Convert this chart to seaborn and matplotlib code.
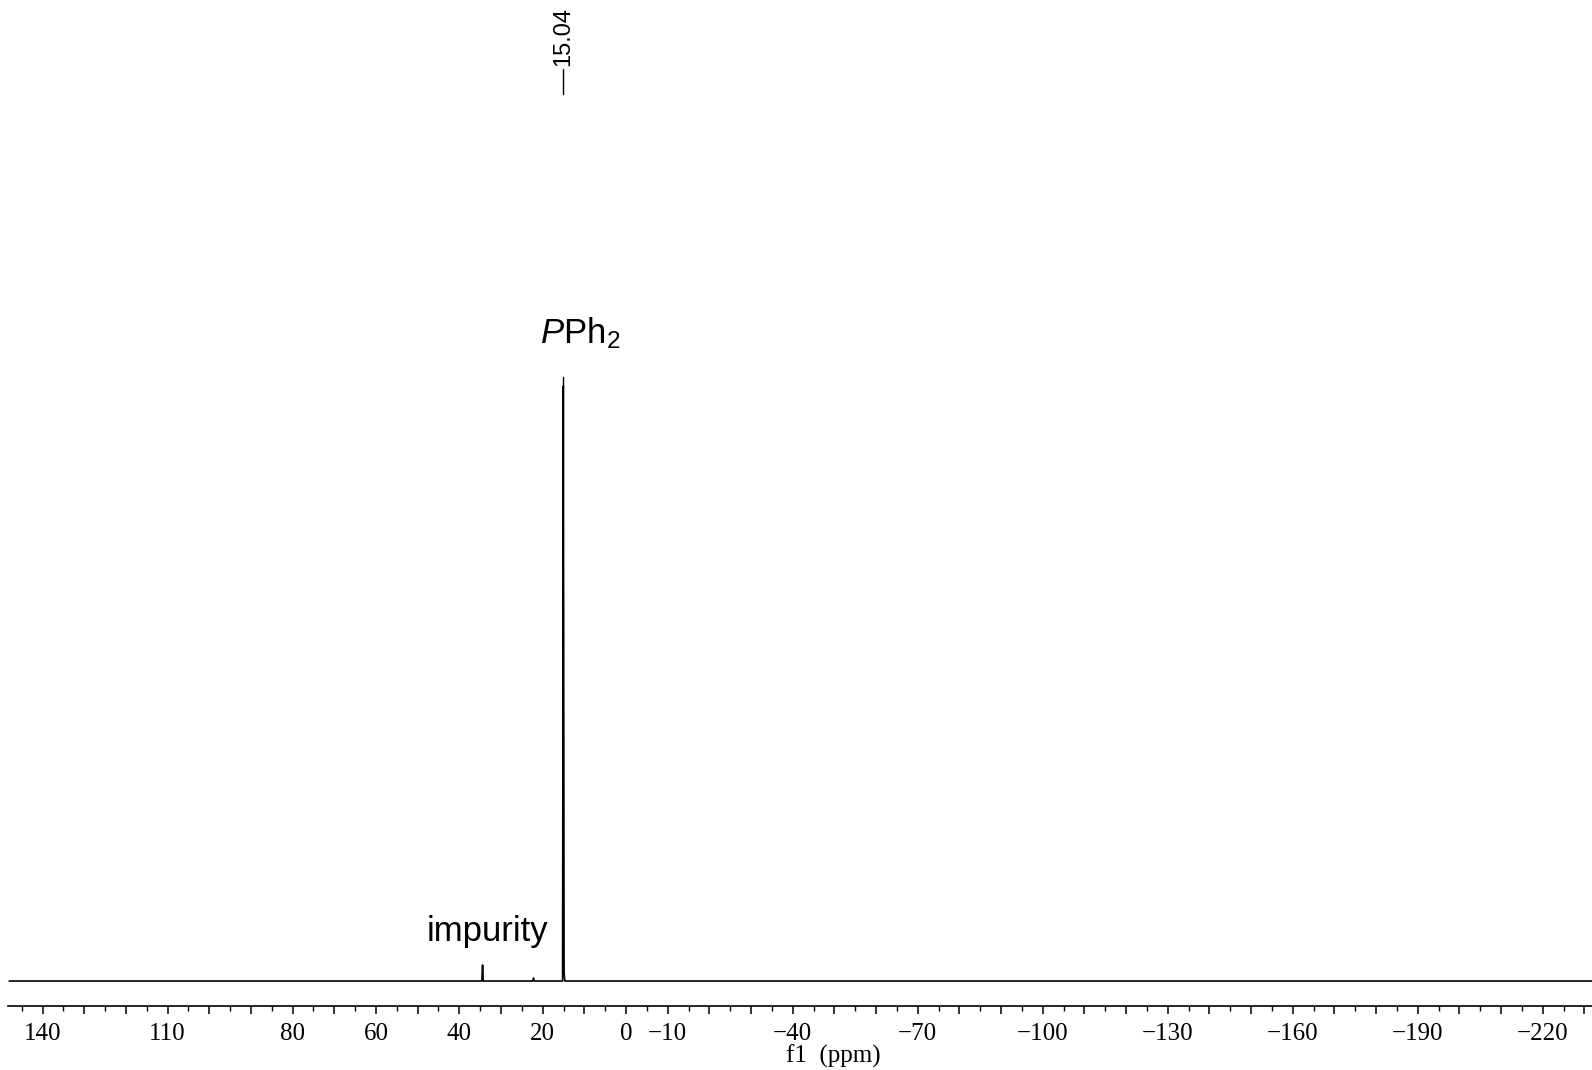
import matplotlib
matplotlib.use("Agg")
import matplotlib.pyplot as plt
import matplotlib.transforms as mtransforms
from matplotlib.ticker import FixedLocator, FuncFormatter, MultipleLocator
import numpy as np
import pandas as pd
import seaborn as sns

# 31P{1H} spectrum, stick-like points (ppm, relative intensity)
ppm = [148.0, 34.60, 34.42, 34.25, 22.40, 22.20, 22.00,
       15.22, 15.04, 14.86, 14.70, 14.60, -232.0]
intensity = [0.0, 0.0, 2.7, 0.0, 0.0, 0.5, 0.0,
             0.0, 100.0, 1.5, 0.0, 0.0, 0.0]

# peak annotations
main_peak_ppm = 15.04
main_peak_label = "15.04"
impurity_ppm = 34.42

# labelled axis ticks
tick_labels = [140, 110, 80, 60, 40, 20, 0, -10, -40, -70, -100, -130, -160, -190, -220]

df = pd.DataFrame({"ppm": ppm, "intensity": intensity})

sns.set_theme(style="white")
plt.rcParams["font.family"] = ["Liberation Serif", "DejaVu Serif"]
plt.rcParams["mathtext.it"] = "Liberation Sans:italic"
plt.rcParams["mathtext.rm"] = "Liberation Sans"

fig = plt.figure(figsize=(15.92, 10.70), dpi=100)
ax = fig.add_axes([8 / 1592, 64 / 1070, 1 - 8 / 1592, 1006 / 1070])

sns.lineplot(data=df, x="ppm", y="intensity", ax=ax, color="black",
             linewidth=1.2, estimator=None, sort=True)

ax.set_xlim(148.3, -231.8)
ax.set_ylim(-4.2, 164.9)

for side in ("left", "right", "top"):
    ax.spines[side].set_visible(False)
ax.spines["bottom"].set_color("black")
ax.spines["bottom"].set_linewidth(1.2)
ax.set_yticks([])
ax.set_ylabel("")

# ticks: majors every 10 ppm, labels only at selected values
ax.xaxis.set_major_locator(FixedLocator(np.arange(140, -231, -10)))
ax.xaxis.set_minor_locator(MultipleLocator(5))
ax.xaxis.set_major_formatter(FuncFormatter(
    lambda v, pos: (f"{int(round(v))}".replace("-", "\u2212")
                    if int(round(v)) in tick_labels else "")))
ax.tick_params(axis="x", which="major", bottom=True, length=6, width=1.1,
               color="black", labelsize=18, pad=6, labelcolor="black")
ax.tick_params(axis="x", which="minor", bottom=True, length=3.5, width=1.0,
               color="black")

ax.set_xlabel("f1  (ppm)", fontsize=18, color="black")
ax.xaxis.set_label_coords(0.521, -0.038)

blend = mtransforms.blended_transform_factory(ax.transData, ax.transAxes)
sans = ["Liberation Sans", "DejaVu Sans"]

def yfrac(py):
    return (1006 - py) / 1006

# chemical shift label at the top
ax.plot([main_peak_ppm, main_peak_ppm], [yfrac(94), yfrac(69)], color="black",
        linewidth=1.0, transform=blend)
ax.text(main_peak_ppm, yfrac(66), main_peak_label, rotation=90, ha="center",
        va="bottom", fontsize=17, family=sans, color="black", transform=blend)

# assignment labels
ax.plot([main_peak_ppm, main_peak_ppm], [yfrac(386), yfrac(377)], color="black",
        linewidth=1.0, transform=blend)
ax.text(main_peak_ppm - 4.0, yfrac(333), r"$\it{P}$Ph$_2$", ha="center",
        va="center", fontsize=25, family=sans, color="black", transform=blend,
        math_fontfamily="custom")

ax.text(impurity_ppm - 1.2, yfrac(932), "impurity", ha="center", va="center",
        fontsize=25, family=sans, color="black", transform=blend)

fig.savefig("out.png", dpi=100, facecolor="white")
